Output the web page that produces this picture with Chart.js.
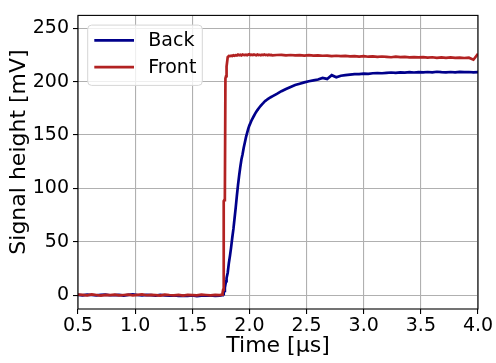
<!DOCTYPE html>
<html>
<head>
<meta charset="utf-8">
<script src="https://cdn.jsdelivr.net/npm/chart.js@4.4.1/dist/chart.umd.min.js"></script>
<style>
  html, body { margin: 0; padding: 0; background: #ffffff; }
  #wrap { width: 496px; height: 363px; }
</style>
</head>
<body>
<div id="wrap"><canvas id="c" width="496" height="363"></canvas></div>
<script>
// Sample times in microseconds
const times = [
  0.50,0.54,0.58,0.62,0.66,0.70,0.74,0.78,0.82,0.86,0.90,0.94,0.98,1.02,1.06,1.10,
  1.14,1.18,1.22,1.26,1.30,1.34,1.38,1.42,1.46,1.50,1.54,1.58,1.62,1.66,1.70,1.74,
  1.76,1.765,1.77,1.775,1.78,1.785,1.79,1.795,1.80,
  1.81,1.82,1.83,1.84,1.85,1.86,1.87,1.88,1.89,1.90,1.91,1.92,1.93,1.94,1.95,1.96,
  1.97,1.98,1.99,2.00,2.01,2.02,2.03,2.04,2.05,2.06,2.07,2.08,2.09,2.10,2.11,2.12,
  2.13,2.14,2.15,2.16,2.17,2.18,2.19,2.20,
  2.24,2.28,2.32,2.36,2.40,2.44,2.48,2.52,2.56,2.60,2.64,2.68,2.72,2.76,2.80,2.84,
  2.88,2.92,2.96,3.00,3.04,3.08,3.12,3.16,3.20,3.24,3.28,3.32,3.36,3.40,3.44,3.48,
  3.52,3.56,3.60,3.64,3.68,3.72,3.76,3.80,3.84,3.88,3.92,3.96,4.00
];

// Signal height of the back readout, mV
const backSignal = [
  0.3,-0.2,0.4,0.1,-0.3,0.2,0.5,-0.1,0.0,0.3,-0.4,0.2,0.6,0.1,-0.2,0.3,
  0.0,-0.5,0.2,-0.3,-0.6,-0.2,-0.8,-0.4,-0.7,-0.3,-0.9,-0.5,-0.6,-0.2,-0.7,-0.4,
  0.0,0.3,1.0,2,4,7,10,13,16,
  21,30,37,45,54,62,72,82,93,103,112,120,127,132,138,143,
  148,152,156,159,161.5,164,166,168,170,171.7,173.3,174.8,176.2,177.5,178.7,179.8,
  181,182,182.8,183.6,184.3,185,185.6,186.2,
  188.5,191,193,195,196.8,198,199.3,200.3,201.2,202,203.5,202.5,206,204,205.5,206,
  206.5,207,207,207.5,207.3,207.8,208,207.8,208.2,208.5,208.2,208.6,208.4,208.8,208.5,208.9,
  208.6,209,208.7,209.2,208.8,208.6,209,208.7,209.1,208.8,209,208.7,208.9
];

// Signal height of the front readout, mV
const frontSignal = [
  0.5,0.2,-0.3,0.6,0.1,-0.4,0.3,0.0,0.5,-0.2,0.1,0.4,-0.3,0.2,0.7,-0.1,
  0.3,0.0,-0.4,0.5,0.1,-0.2,0.3,-0.5,0.2,0.0,-0.3,0.4,0.1,-0.2,0.3,0.0,
  0.5,2,5,88,89,90,203,205,214,
  223,224,223.8,224.3,224,224.6,224.2,224.8,224.5,225.3,224.7,225.1,224.6,225.4,225,224.8,
  225.2,224.7,225.3,225.6,224.9,225.2,224.8,225.4,225,224.7,225.3,224.9,225.1,224.6,225.2,224.8,
  225.3,224.9,225.1,224.7,225.2,224.8,225,224.6,
  224.9,225.1,224.6,224.9,224.5,224.8,224.4,224.7,224.3,224.6,224.2,224.4,223.9,224.2,223.8,224.1,
  223.7,223.9,223.4,223.8,223.3,223.6,223.1,223.5,223.2,222.8,223.3,222.9,223.2,222.7,223,222.6,
  222.9,222.4,222.8,222.3,222.6,222.2,222.7,222.3,222.5,222.1,222.4,220.5,226
];

const seriesNames = ['Back', 'Front'];
const xTickValues = [0.5, 1.0, 1.5, 2.0, 2.5, 3.0, 3.5, 4.0];
const yTickValues = [0, 50, 100, 150, 200, 250];
const yAxisTitle = 'Signal height [mV]';

const FONT = "'DejaVu Sans', 'Liberation Sans', sans-serif";
const LINE_W = 2.7;

const toPoints = (ys) => times.map((t, i) => ({ x: t, y: ys[i] }));

// Black frame around the plot area
const framePlugin = {
  id: 'frame',
  afterDatasetsDraw(chart) {
    const { ctx, chartArea: a } = chart;
    ctx.save();
    ctx.strokeStyle = '#000000';
    ctx.lineWidth = 1.1;
    ctx.strokeRect(a.left, a.top, a.right - a.left, a.bottom - a.top);
    ctx.restore();
  }
};

// Rotated title for the vertical axis
const yTitlePlugin = {
  id: 'yTitle',
  afterDraw(chart) {
    const { ctx } = chart;
    ctx.save();
    ctx.translate(19.5, 152);
    ctx.rotate(-Math.PI / 2);
    ctx.font = '22px ' + FONT;
    ctx.fillStyle = '#000000';
    ctx.textAlign = 'center';
    ctx.textBaseline = 'middle';
    ctx.fillText(yAxisTitle, 0, 0);
    ctx.restore();
  }
};

// Legend box in the upper-left corner of the plot
const legendPlugin = {
  id: 'insetLegend',
  afterDraw(chart) {
    const { ctx, chartArea: a } = chart;
    const sets = chart.data.datasets.slice().sort((p, q) => seriesNames.indexOf(p.label) - seriesNames.indexOf(q.label));
    const x0 = a.left + 9.7, y0 = a.top + 9.7, w = 114.6, h = 60.3, r = 4;
    ctx.save();
    ctx.beginPath();
    ctx.moveTo(x0 + r, y0);
    ctx.lineTo(x0 + w - r, y0);
    ctx.quadraticCurveTo(x0 + w, y0, x0 + w, y0 + r);
    ctx.lineTo(x0 + w, y0 + h - r);
    ctx.quadraticCurveTo(x0 + w, y0 + h, x0 + w - r, y0 + h);
    ctx.lineTo(x0 + r, y0 + h);
    ctx.quadraticCurveTo(x0, y0 + h, x0, y0 + h - r);
    ctx.lineTo(x0, y0 + r);
    ctx.quadraticCurveTo(x0, y0, x0 + r, y0);
    ctx.closePath();
    ctx.fillStyle = 'rgba(255,255,255,0.8)';
    ctx.fill();
    ctx.strokeStyle = '#d6d6d6';
    ctx.lineWidth = 1;
    ctx.stroke();
    sets.forEach((ds, i) => {
      const y = y0 + 15.3 + i * 26.7;
      ctx.beginPath();
      ctx.moveTo(x0 + 6.6, y);
      ctx.lineTo(x0 + 46.3, y);
      ctx.strokeStyle = ds.borderColor;
      ctx.lineWidth = LINE_W;
      ctx.stroke();
      ctx.fillStyle = '#000000';
      ctx.font = '19px ' + FONT;
      ctx.textBaseline = 'middle';
      ctx.textAlign = 'left';
      ctx.fillText(ds.label, x0 + 60.6, y + 1);
    });
    ctx.restore();
  }
};

new Chart(document.getElementById('c'), {
  type: 'line',
  data: {
    datasets: [
      {
        label: seriesNames[0],
        data: toPoints(backSignal),
        borderColor: '#00008b',
        borderWidth: LINE_W,
        pointRadius: 0,
        tension: 0,
        fill: false,
        order: 1
      },
      {
        label: seriesNames[1],
        data: toPoints(frontSignal),
        borderColor: '#b22222',
        borderWidth: LINE_W,
        pointRadius: 0,
        tension: 0,
        fill: false,
        order: 0
      }
    ]
  },
  options: {
    responsive: false,
    animation: false,
    events: [],
    layout: { padding: { top: 6, right: 18, left: 0, bottom: 0 } },
    plugins: {
      legend: { display: false },
      tooltip: { enabled: false }
    },
    scales: {
      x: {
        type: 'linear',
        min: 0.5,
        max: 4.0,
        afterFit(scale) { scale.height = 54; },
        afterBuildTicks(scale) { scale.ticks = xTickValues.map(v => ({ value: v })); },
        border: { display: false },
        grid: { color: '#b0b0b0', lineWidth: 1.1, tickColor: '#000000', tickLength: 5, tickWidth: 1.1 },
        ticks: {
          color: '#000000',
          font: { family: FONT, size: 19 },
          padding: 1,
          maxRotation: 0,
          callback: (v) => v.toFixed(1)
        },
        title: {
          display: true,
          text: 'Time [\u03bcs]',
          color: '#000000',
          font: { family: FONT, size: 22 },
          padding: { top: 0, bottom: 4 }
        }
      },
      y: {
        type: 'linear',
        min: -13,
        max: 262,
        afterFit(scale) { scale.width = 78; },
        afterBuildTicks(scale) { scale.ticks = yTickValues.map(v => ({ value: v })); },
        border: { display: false },
        grid: { color: '#b0b0b0', lineWidth: 1.1, tickColor: '#000000', tickLength: 5, tickWidth: 1.1 },
        ticks: {
          color: '#000000',
          font: { family: FONT, size: 19 },
          padding: 4,
          callback: (v) => String(v)
        },
        title: { display: false }
      }
    }
  },
  plugins: [framePlugin, yTitlePlugin, legendPlugin]
});
</script>
</body>
</html>
